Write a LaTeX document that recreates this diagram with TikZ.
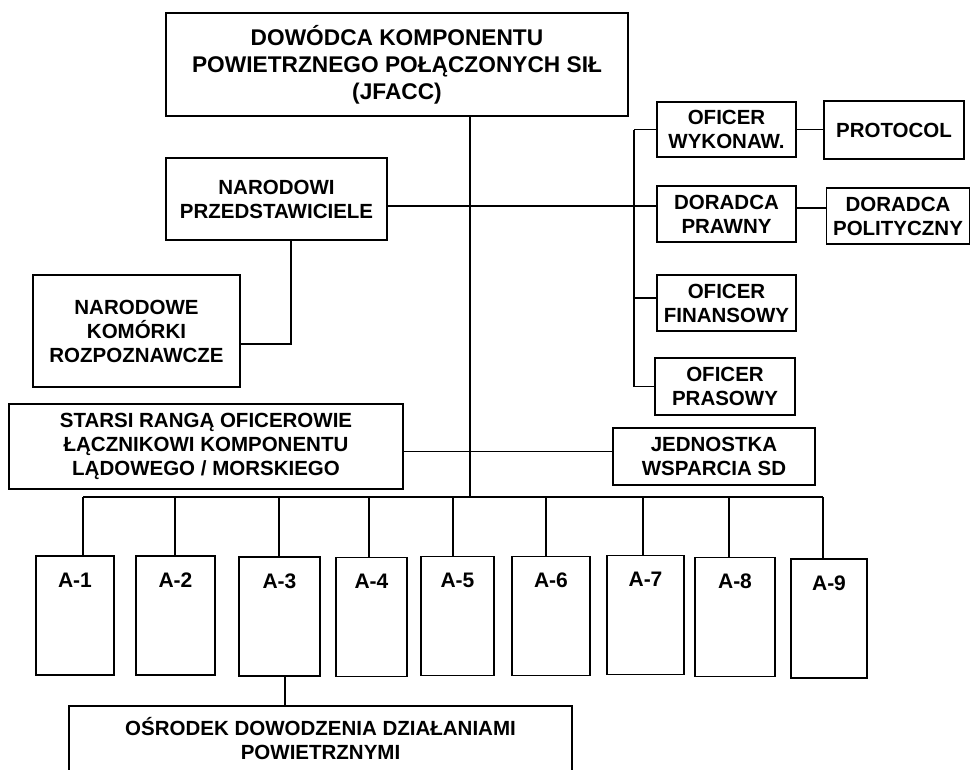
\documentclass[tikz,border=0pt]{standalone}
\usepackage{fontspec}
\setmainfont{Liberation Sans}
\begin{document}
\begin{tikzpicture}[x=1pt,y=-1pt,
  box/.style={draw, line width=1.8pt, align=center, inner sep=0pt,
    font=\bfseries\fontsize{20.5}{24}\selectfont},
  headbox/.style={box, font=\bfseries\fontsize{22.7}{27}\selectfont},
  abox/.style={box, minimum width=78, text height=31, text depth=88,
    font=\bfseries\fontsize{21}{24}\selectfont},
  link/.style={line width=1.7pt}]
\useasboundingbox (0,0) rectangle (972,769);
\clip (0,0) rectangle (972,769);

% command level
\node[headbox, minimum width=462, minimum height=103] (top) at (397,64.5)
  {DOWÓDCA KOMPONENTU\\POWIETRZNEGO POŁĄCZONYCH SIŁ\\(JFACC)};

% national elements
\node[box, minimum width=221, minimum height=82] (narodowi) at (276.5,199)
  {NARODOWI\\PRZEDSTAWICIELE};
\node[box, minimum width=207, minimum height=112] (narodowe) at (136.5,331)
  {NARODOWE\\KOMÓRKI\\ROZPOZNAWCZE};
\node[box, minimum width=394, minimum height=85] (starsi) at (206,446.5)
  {STARSI RANGĄ OFICEROWIE\\ŁĄCZNIKOWI KOMPONENTU\\LĄDOWEGO / MORSKIEGO};

% personal staff
\node[box, minimum width=139, minimum height=55] (wykonaw) at (726.5,129.5)
  {OFICER\\WYKONAW.};
\node[box, minimum width=140, minimum height=58] (protocol) at (894,130)
  {PROTOCOL};
\node[box, minimum width=139, minimum height=56] (prawny) at (726.5,214)
  {DORADCA\\PRAWNY};
\node[box, minimum width=143, minimum height=56] (polityczny) at (898,216)
  {DORADCA\\POLITYCZNY};
\node[box, minimum width=139, minimum height=56] (finansowy) at (726.5,303)
  {OFICER\\FINANSOWY};
\node[box, minimum width=140, minimum height=57] (prasowy) at (725,386.5)
  {OFICER\\PRASOWY};
\node[box, minimum width=202, minimum height=57] (jednostka) at (714,456.5)
  {JEDNOSTKA\\WSPARCIA SD};

% A-staff directorates
\node[abox] (A1) at (75,615.5) {A-1};
\node[abox, minimum width=79] (A2) at (175.5,615.5) {A-2};
\node[abox, minimum width=81] (A3) at (279.5,616.5) {A-3};
\node[abox, minimum width=71] (A4) at (371.5,617) {A-4};
\node[abox, minimum width=73] (A5) at (457.5,616) {A-5};
\node[abox] (A6) at (551,616) {A-6};
\node[abox, minimum width=77] (A7) at (645.5,615) {A-7};
\node[abox, minimum width=80] (A8) at (735,617) {A-8};
\node[abox, minimum width=76] (A9) at (829,618.5) {A-9};

\node[box, minimum width=503, minimum height=65] (aoc) at (320.5,738.5)
  {OŚRODEK DOWODZENIA DZIAŁANIAMI\\POWIETRZNYMI};

% trunk and bus
\coordinate (trunk) at (470,497);
\coordinate (col) at (634,0);
\draw[link] (top.south -| trunk) -- (trunk);
\draw[link] ([xshift=8]A1.north |- trunk) -- ([xshift=-6]A9.north |- trunk);
\foreach \n/\dx in {A1/8, A2/-0.5, A3/-0.5, A4/-2.5, A5/-4.5, A6/-5, A7/-2.5, A8/-6, A9/-6}
  \draw[link] ([xshift=\dx]\n.north |- trunk) -- ([xshift=\dx]\n.north);
\draw[link] ([xshift=5.5]A3.south) -- ([xshift=5.5]A3.south |- aoc.north);

% national representatives and liaison lines
\draw[link] ([yshift=-7]narodowi.east) -- ([yshift=-7]narodowi.east -| prawny.west);
\draw[link] ([xshift=14.5]narodowi.south) |- ([yshift=-13]narodowe.east);
\draw[link] ([yshift=-5]starsi.east) -- ([yshift=-5]starsi.east -| jednostka.west);

% personal staff column
\draw[link] (col |- wykonaw.west) -- (col |- prasowy.west);
\draw[link] (col |- wykonaw.west) -- (wykonaw.west);
\draw[link] ([yshift=5]col |- finansowy.west) -- ([yshift=5]finansowy.west);
\draw[link] (col |- prasowy.west) -- (prasowy.west);
\draw[link] (wykonaw.east) -- (wykonaw.east -| protocol.west);
\draw[link] ([yshift=6]prawny.east) -- ([yshift=6]prawny.east -| polityczny.west);
\end{tikzpicture}
\end{document}
